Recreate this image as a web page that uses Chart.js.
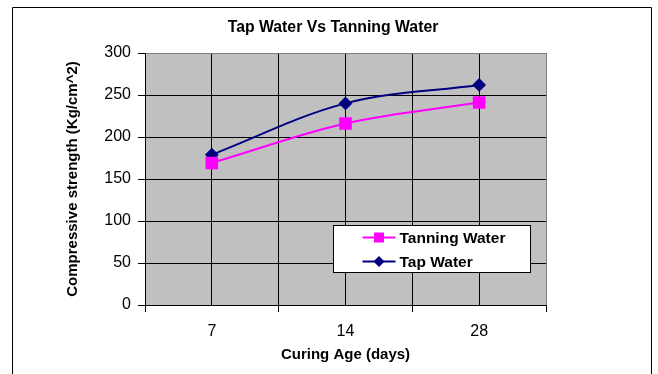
<!DOCTYPE html>
<html>
<head>
<meta charset="utf-8">
<script src="https://cdn.jsdelivr.net/npm/chart.js@4.4.1/dist/chart.umd.min.js"></script>
<style>
  html, body { margin: 0; padding: 0; background: #fff; }
  #wrap { width: 658px; height: 374px; }
</style>
</head>
<body>
<div id="wrap"><canvas id="grafico" width="658" height="374"></canvas></div>
<script>
// dados
const idades = ['7', '14', '28'];
const aguaCurtume = [169, 216, 241];
const aguaTorneira = [179, 240, 262];
const tituloGrafico = 'Tap Water Vs Tanning Water';
const nomesSeries = ['Tanning Water', 'Tap Water'];

const fonte = "'Liberation Sans', Arial, sans-serif";

// cada idade fica no meio de uma faixa de 2 unidades (0..6)
function pontos(valores) {
    return valores.map(function (v, i) { return { x: 2 * i + 1, y: v } })
}

const moldura = {
    id: 'moldura',
    beforeDraw(chart) {
        const c = chart.ctx
        const a = chart.chartArea
        c.save()
        c.fillStyle = '#fff'
        c.fillRect(0, 0, chart.width, chart.height)
        c.strokeStyle = '#000'
        c.lineWidth = 1
        c.beginPath()
        c.moveTo(12.5, 390)
        c.lineTo(12.5, 7.5)
        c.lineTo(651.5, 7.5)
        c.lineTo(651.5, 390)
        c.stroke()
        c.fillStyle = '#c0c0c0'
        c.fillRect(a.left, a.top, a.right - a.left, a.bottom - a.top)
        c.fillStyle = '#000'
        c.font = 'bold 15.8px ' + fonte
        c.textAlign = 'center'
        c.textBaseline = 'middle'
        c.fillText(tituloGrafico, 333, 28)
        c.restore()
    },
    afterDraw(chart) {
        const c = chart.ctx
        const a = chart.chartArea
        const x0 = a.left + 188.5
        const y0 = a.top + 172.5
        c.save()
        c.fillStyle = '#fff'
        c.fillRect(x0, y0, 197, 47)
        c.strokeStyle = '#000'
        c.lineWidth = 1
        c.strokeRect(x0, y0, 197, 47)
        chart.data.datasets.forEach(function (ds, i) {
            const yy = y0 + 12 + i * 24
            c.strokeStyle = ds.borderColor
            c.lineWidth = 2
            c.beginPath()
            c.moveTo(x0 + 29, yy)
            c.lineTo(x0 + 62, yy)
            c.stroke()
            c.fillStyle = ds.backgroundColor
            const cx = x0 + 45.5
            c.beginPath()
            if (ds.pointStyle === 'rect') {
                c.rect(cx - 5, yy - 5, 10, 10)
            } else {
                c.moveTo(cx - 5.5, yy)
                c.lineTo(cx, yy - 5.5)
                c.lineTo(cx + 5.5, yy)
                c.lineTo(cx, yy + 5.5)
                c.closePath()
            }
            c.fill()
            c.fillStyle = '#000'
            c.font = 'bold 15.5px ' + fonte
            c.textAlign = 'left'
            c.textBaseline = 'middle'
            c.fillText(ds.label, x0 + 66, yy + 1)
        })
        c.restore()
    }
}

const ctx = document.getElementById('grafico')

var graficoLinhas = new Chart(ctx, {
    type: 'line',
    data: {
        datasets: [{
            label: nomesSeries[0],
            data: pontos(aguaCurtume),
            borderColor: '#ff00ff',
            backgroundColor: '#ff00ff',
            borderWidth: 2,
            pointStyle: 'rect',
            pointRadius: 7.5,
            pointHoverRadius: 7.5,
            tension: 0.35
        }, {
            label: nomesSeries[1],
            data: pontos(aguaTorneira),
            borderColor: '#000080',
            backgroundColor: '#000080',
            borderWidth: 2,
            pointStyle: 'rectRot',
            pointRadius: 5.5,
            pointHoverRadius: 5.5,
            tension: 0.35
        }]
    },
    options: {
        responsive: false,
        animation: false,
        layout: { padding: { top: 53, left: 0, right: 112, bottom: 0 } },
        plugins: {
            legend: { display: false },
            title: { display: false },
            tooltip: { enabled: false }
        },
        scales: {
            x: {
                type: 'linear',
                min: 0,
                max: 6,
                afterBuildTicks: function (s) {
                    s.ticks = [0, 1, 2, 3, 4, 5, 6].map(function (v) { return { value: v } })
                },
                afterFit: function (s) { s.height = 69 },
                ticks: {
                    autoSkip: false,
                    maxRotation: 0,
                    padding: 10,
                    color: '#000',
                    font: { family: fonte, size: 16 },
                    callback: function (v) { return v % 2 === 1 ? idades[(v - 1) / 2] : '' }
                },
                grid: {
                    color: function (c) { return c.tick && c.tick.value === 6 ? '#808080' : '#000' },
                    tickColor: function (c) { return c.tick && c.tick.value % 2 === 0 ? '#000' : 'rgba(0,0,0,0)' },
                    tickLength: 7,
                    lineWidth: 1
                },
                border: { color: '#000', width: 1 },
                title: {
                    display: true,
                    text: 'Curing Age (days)',
                    color: '#000',
                    font: { family: fonte, size: 15, weight: 'bold' },
                    padding: { top: 0, bottom: 10 }
                }
            },
            y: {
                min: 0,
                max: 300,
                afterFit: function (s) { s.width = 145 },
                ticks: {
                    stepSize: 50,
                    padding: 7,
                    color: '#000',
                    font: { family: fonte, size: 16 }
                },
                grid: {
                    color: function (c) { return c.tick && c.tick.value === 300 ? '#808080' : '#000' },
                    tickColor: '#000',
                    tickLength: 7,
                    lineWidth: 1
                },
                border: { color: '#000', width: 1 },
                title: {
                    display: true,
                    text: 'Compressive strength (Kg/cm^2)',
                    color: '#000',
                    font: { family: fonte, size: 15, weight: 'bold' },
                    padding: { top: 64, bottom: 0 }
                }
            }
        }
    },
    plugins: [moldura]
});
</script>
</body>
</html>
